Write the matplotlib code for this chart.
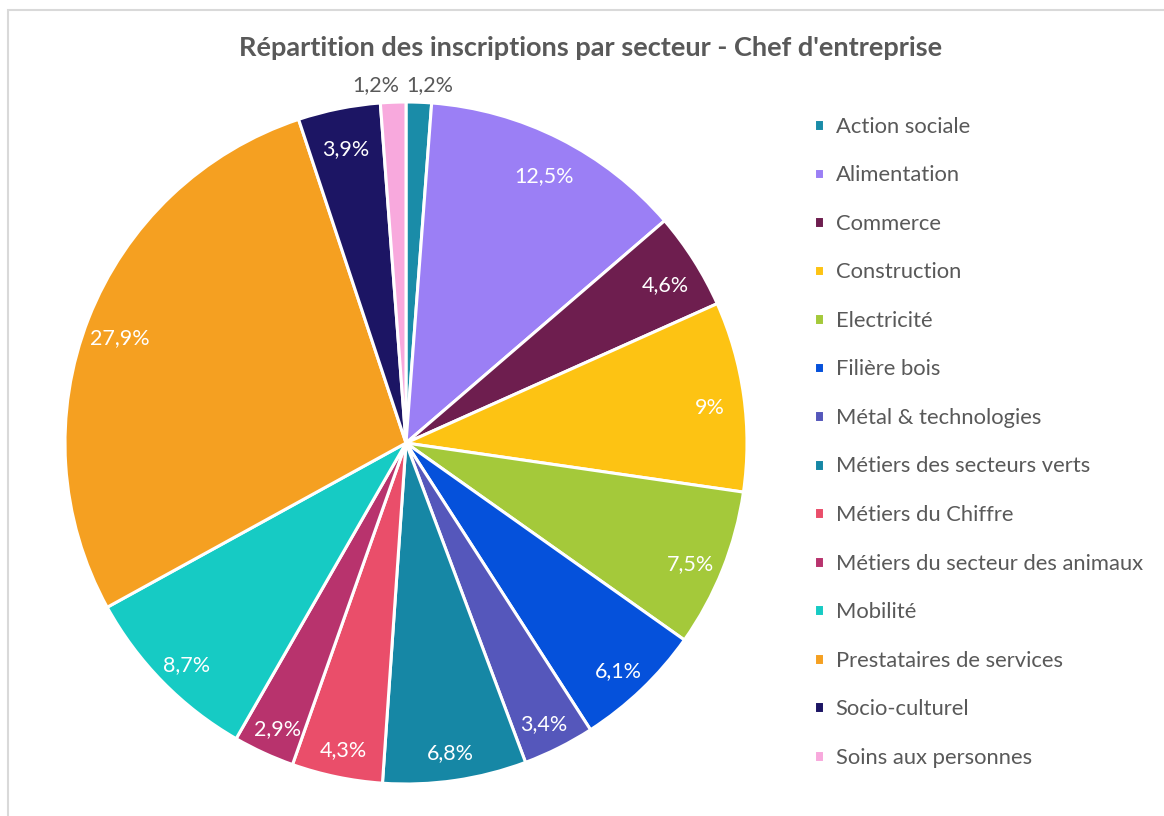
import matplotlib.pyplot as plt
import numpy as np
from matplotlib.patches import Rectangle

plt.rcParams['font.family'] = ['Lato', 'DejaVu Sans']

# Data
sectors = ['Action sociale', 'Alimentation', 'Commerce', 'Construction', 'Electricité',
           'Filière bois', 'Métal & technologies', 'Métiers des secteurs verts',
           'Métiers du Chiffre', 'Métiers du secteur des animaux', 'Mobilité',
           'Prestataires de services', 'Socio-culturel', 'Soins aux personnes']
shares = [1.2, 12.5, 4.6, 9, 7.5, 6.1, 3.4, 6.8, 4.3, 2.9, 8.7, 27.9, 3.9, 1.2]
share_labels = ['1,2%', '12,5%', '4,6%', '9%', '7,5%', '6,1%', '3,4%', '6,8%',
                '4,3%', '2,9%', '8,7%', '27,9%', '3,9%', '1,2%']
colors = ['#1a8ca8', '#9b7ff5', '#6e1e4f', '#fdc313', '#a4c93a', '#0551db', '#5557bb',
          '#1687a5', '#ea4e6a', '#b8336d', '#16cbc4', '#f5a021', '#1c1564', '#f8a9dd']

W, H = 1164, 816
fig = plt.figure(figsize=(W / 100, H / 100), dpi=100)

# light chart border
fig.patches.append(Rectangle((8 / W, -0.1), 1.2, (H - 10) / H + 0.1,
                             transform=fig.transFigure, fill=False,
                             edgecolor='#d9d9d9', linewidth=1.5))

# pie axes, placed in pixels
cx, cy, r = 406, 443, 341
ax = fig.add_axes([(cx - r) / W, (H - cy - r) / H, 2 * r / W, 2 * r / H])
wedges, _ = ax.pie(shares, colors=colors, startangle=90, counterclock=False,
                   wedgeprops=dict(edgecolor='white', linewidth=2.2))
ax.set_xlim(-1, 1)
ax.set_ylim(-1, 1)
ax.set_aspect('equal')
ax.axis('off')

# percentage labels
for i, (w, lab) in enumerate(zip(wedges, share_labels)):
    ang = np.deg2rad((w.theta1 + w.theta2) / 2)
    if shares[i] < 2:
        # small slices: label above the pie, outside
        x = np.cos(ang) * 1.05 + (0.03 if i == 0 else -0.05)
        ax.text(x, 1.05, lab, ha='center', va='center', fontsize=15.5, color='#595959')
    else:
        d = 0.9
        ax.text(np.cos(ang) * d, np.sin(ang) * d - 0.02, lab, ha='center', va='center',
                fontsize=15.5, color='white')

fig.text(591 / W, 1 - 48 / H, "Répartition des inscriptions par secteur - Chef d'entreprise",
         ha='center', va='center', fontsize=19.5, fontweight='bold', color='#595959')

fig.legend(wedges, sectors, loc='upper left', bbox_to_anchor=(794 / W, 1 - 97 / H),
           frameon=False, fontsize=15.8, handlelength=0.45, handleheight=0.45,
           handletextpad=0.55, labelspacing=1.30, labelcolor='#595959')

fig.savefig('out.png', dpi=100)
